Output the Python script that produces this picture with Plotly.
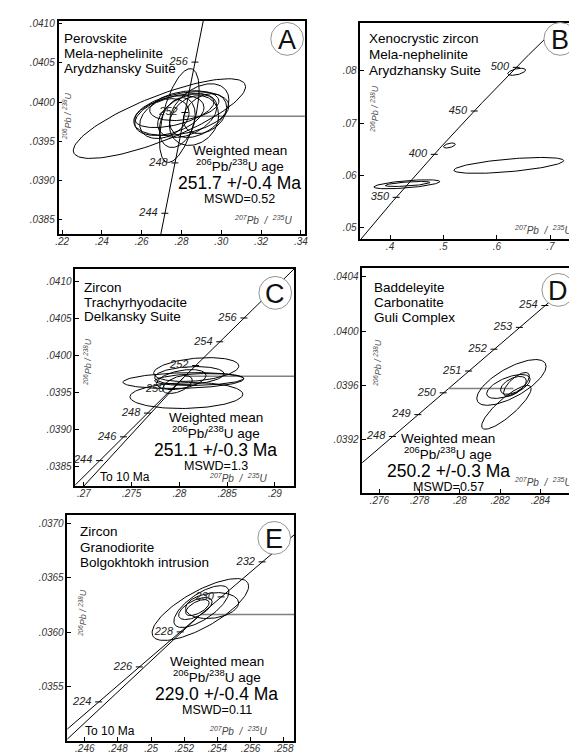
import numpy as np
import plotly.graph_objects as go

W, H = 577, 753
LAM238 = 1.55125e-10
LAM235 = 9.8485e-10
FONT = "Liberation Sans"

# ---------------- data ----------------
# ellipses: centre 207Pb/235U, centre 206Pb/238U, half-width x, half-height y, correlation
A_cx = [0.2689, 0.2789, 0.2799, 0.2739, 0.2918, 0.2829, 0.2764, 0.2863, 0.2714, 0.2814, 0.2889, 0.2779]
A_cy = [0.039788, 0.039827, 0.039852, 0.039827, 0.039852, 0.039827, 0.039890, 0.039763, 0.039788, 0.039954, 0.039890, 0.039737]
A_sx = [0.0433, 0.00995, 0.0239, 0.0174, 0.0109, 0.0149, 0.0199, 0.0124, 0.0124, 0.0174, 0.0149, 0.0090]
A_sy = [0.00051, 0.0006, 0.00028, 0.000255, 0.000255, 0.00028, 0.000217, 0.000319, 0.000255, 0.000191, 0.000344, 0.000319]
A_rho = [0.8, 0.55, 0.35, 0.4, 0.3, 0.4, 0.5, 0.2, 0.3, 0.3, 0.4, 0.3]

B_cx = [0.637, 0.5111, 0.6222, 0.4315, 0.4330]
B_cy = [0.0798, 0.06571, 0.0619, 0.05829, 0.05835]
B_sx = [0.0167, 0.0111, 0.1028, 0.0617, 0.0417]
B_sy = [0.00067, 0.00048, 0.00152, 0.00086, 0.00048]
B_rho = [0.5, 0.5, 0.6, 0.6, 0.6]

C_cx = [0.28041, 0.28176, 0.28073, 0.2802, 0.28104, 0.27979, 0.28207]
C_cy = [0.039662, 0.039811, 0.039459, 0.039676, 0.039730, 0.039608, 0.039676]
C_sx = [0.00632, 0.00446, 0.00591, 0.00259, 0.00363, 0.00155, 0.00466]
C_sy = [0.000108, 0.000162, 0.000176, 0.000135, 0.000122, 0.000122, 0.000081]
C_rho = [0.2, 0.3, 0.1, 0.4, 0.2, 0.5, 0.2]

D_cx = [0.28256, 0.28231, 0.28241, 0.28266, 0.28281]
D_cy = [0.039620, 0.039436, 0.039590, 0.039598, 0.039605]
D_sx = [0.00172, 0.00123, 0.00108, 0.00064, 0.00064]
D_sy = [0.000169, 0.000162, 0.0000883, 0.000066, 0.0000883]
D_rho = [0.7, 0.85, 0.6, 0.5, 0.7]

E_cx = [0.25297, 0.25303, 0.25267, 0.25368, 0.25279]
E_cy = [0.036207, 0.036234, 0.036216, 0.036243, 0.036225]
E_sx = [0.00291, 0.00166, 0.00101, 0.0016, 0.00071]
E_sy = [0.000284, 0.000192, 0.000101, 0.000119, 0.000073]
E_rho = [0.75, 0.7, 0.6, 0.2, 0.6]

# concordia age ticks (Ma)
A_ages = [244, 248, 252, 256]
B_ages = [350, 400, 450, 500]
C_ages = [244, 246, 248, 250, 252, 254, 256]
D_ages = [248, 249, 250, 251, 252, 253, 254]
E_ages = [224, 226, 228, 230, 232]

# weighted mean 206Pb/238U ages (Ma) and MSWD
mean_age = {"A": 251.7, "C": 251.1, "D": 250.2, "E": 229.0}
mean_err = {"A": 0.4, "C": 0.3, "D": 0.3, "E": 0.4}
mswd = {"A": "0.52", "C": "1.3", "D": "0.57", "E": "0.11"}
lower_intercept = 10.0  # Ma, chord "To 10 Ma" (panels C, E)

# tick labels
A_xt = [".22", ".24", ".26", ".28", ".30", ".32", ".34"]
A_yt = [".0385", ".0390", ".0395", ".0400", ".0405", ".0410"]
B_xt = [".4", ".5", ".6", ".7"]
B_yt = [".05", ".06", ".07", ".08"]
C_xt = [".27", ".275", ".28", ".285", ".29"]
C_yt = [".0385", ".0390", ".0395", ".0400", ".0405", ".0410"]
D_xt = [".276", ".278", ".28", ".282", ".284"]
D_yt = [".0388", ".0392", ".0396", ".0400", ".0404"]
E_xt = [".246", ".248", ".25", ".252", ".254", ".256", ".258"]
E_yt = [".0355", ".0360", ".0365", ".0370"]

titles = {
    "A": ["Perovskite", "Mela-nephelinite", "Arydzhansky Suite"],
    "B": ["Xenocrystic zircon", "Mela-nephelinite", "Arydzhansky Suite"],
    "C": ["Zircon", "Trachyrhyodacite", "Delkansky Suite"],
    "D": ["Baddeleyite", "Carbonatite", "Guli Complex"],
    "E": ["Zircon", "Granodiorite", "Bolgokhtokh intrusion"],
}

# ---------------- layout (pixel geometry) ----------------
P = {
    "A": dict(box=(48, 10, 297, 224), xr=(0.21816, 0.34204), yr=(0.038309, 0.041038),
              ell=(A_cx, A_cy, A_sx, A_sy, A_rho), ages=A_ages, span=(238, 262),
              xt=A_xt, yt=A_yt, chord=False, mline_end=None,
              title_xy=(52, 28, 15), circ=(279, 28), ytit=(56, 105), xtit=(255, 210),
              wm=(231, 140)),
    "B": dict(box=(353, 12, 574, 229), xr=(0.34444, 0.7537), yr=(0.04781, 0.08914),
              ell=(B_cx, B_cy, B_sx, B_sy, B_rho), ages=B_ages, span=(280, 600),
              xt=B_xt, yt=B_yt, chord=False, mline_end=None,
              title_xy=(360, 28, 16), circ=(555, 28), ytit=(367, 98), xtit=(538, 220),
              wm=None),
    "C": dict(box=(65, 259, 286, 477), xr=(0.2691, 0.2920), yr=(0.03823, 0.041176),
              ell=(C_cx, C_cy, C_sx, C_sy, C_rho), ages=C_ages, span=(236, 264),
              xt=C_xt, yt=C_yt, chord=True, mline_end=None,
              title_xy=(72, 278, 14.5), circ=(267, 283), ytit=(77, 352), xtit=(230, 469),
              wm=(207, 408), to10=(115, 468)),
    "D": dict(box=(355, 258, 575, 484), xr=(0.275154, 0.285966), yr=(0.038802, 0.040466),
              ell=(D_cx, D_cy, D_sx, D_sy, D_rho), ages=D_ages, span=(245, 258),
              xt=D_xt, yt=D_yt, chord=False, mline_end=0.28266,
              title_xy=(365, 278, 15), circ=(553, 280), ytit=(370, 353), xtit=(538, 473),
              wm=(442, 429)),
    "E": dict(box=(57, 506, 286, 733), xr=(0.24495, 0.25862), yr=(0.034999, 0.037075),
              ell=(E_cx, E_cy, E_sx, E_sy, E_rho), ages=E_ages, span=(215, 240),
              xt=E_xt, yt=E_yt, chord=True, mline_end=None,
              title_xy=(68, 523, 15.5), circ=(266, 529), ytit=(72, 604), xtit=(230, 723),
              wm=(208, 653), to10=(100, 723)),
}


def conc_xy(t_ma):
    t = np.asarray(t_ma, float) * 1e6
    return np.expm1(LAM235 * t), np.expm1(LAM238 * t)


def ellipse(cx, cy, sx, sy, rho, n=120):
    th = np.linspace(0, 2 * np.pi, n)
    return (cx + sx * np.cos(th),
            cy + sy * (rho * np.cos(th) + np.sqrt(1 - rho ** 2) * np.sin(th)))


def px(x, y):
    return x / W, 1 - y / H


fig = go.Figure()
annotations = []
shapes = []
layout = {}

for i, key in enumerate(["A", "B", "C", "D", "E"]):
    p = P[key]
    s = "" if i == 0 else str(i + 1)
    xa, ya = "x" + s, "y" + s
    l, t, r, b = p["box"]
    xvals = [float(v) for v in p["xt"]]
    yvals = [float(v) for v in p["yt"]]
    tickfont = dict(family=FONT, size=10, color="#333", style="italic")
    common = dict(ticks="inside", ticklen=4, tickwidth=1, tickcolor="black",
                  showline=True, mirror=True, linecolor="black", linewidth=1.5,
                  showgrid=False, zeroline=False, tickfont=tickfont)
    layout["xaxis" + s] = dict(domain=[l / W, r / W], range=list(p["xr"]), anchor=ya,
                               tickvals=xvals, ticktext=p["xt"], ticklabelstandoff=-3,
                               **common)
    layout["yaxis" + s] = dict(domain=[1 - b / H, 1 - t / H], range=list(p["yr"]), anchor=xa,
                               tickvals=yvals, ticktext=p["yt"], **common)

    # concordia
    ages_line = np.linspace(p["span"][0], p["span"][1], 200)
    cxl, cyl = conc_xy(ages_line)
    fig.add_trace(go.Scatter(x=cxl, y=cyl, mode="lines", xaxis=xa, yaxis=ya,
                             line=dict(color="black", width=1), hoverinfo="skip"))
    # chord to 10 Ma
    if p["chord"]:
        ux, uy = conc_xy([mean_age[key], lower_intercept])
        fig.add_trace(go.Scatter(x=ux, y=uy, mode="lines", xaxis=xa, yaxis=ya,
                                 line=dict(color="black", width=1), hoverinfo="skip"))
    # weighted mean line
    if key in mean_age:
        mx, my = conc_xy([mean_age[key]])
        xend = p["mline_end"] if p["mline_end"] is not None else p["xr"][1]
        fig.add_trace(go.Scatter(x=[mx[0], xend], y=[my[0], my[0]], mode="lines",
                                 xaxis=xa, yaxis=ya,
                                 line=dict(color="#808080", width=1.5), hoverinfo="skip"))
    # ellipses
    for cx, cy, sx, sy, rho in zip(*p["ell"]):
        ex, ey = ellipse(cx, cy, sx, sy, rho)
        fig.add_trace(go.Scatter(x=ex, y=ey, mode="lines", xaxis=xa, yaxis=ya,
                                 line=dict(color="black", width=1), hoverinfo="skip"))
    # concordia age ticks + labels
    tx, ty = conc_xy(p["ages"])
    fig.add_trace(go.Scatter(x=tx, y=ty, mode="markers+text", xaxis=xa, yaxis=ya,
                             marker=dict(symbol="line-ew", size=5,
                                         line=dict(color="black", width=1)),
                             text=[f"{a} " for a in p["ages"]], textposition="middle left",
                             textfont=dict(family=FONT, size=11, color="#222", style="italic"),
                             hoverinfo="skip", cliponaxis=False))

    # sample description
    x0, y0, dy = p["title_xy"]
    for k, line in enumerate(titles[key]):
        ax, ay = px(x0, y0 + k * dy)
        annotations.append(dict(x=ax, y=ay, xref="paper", yref="paper", text=line,
                                showarrow=False, xanchor="left", yanchor="middle",
                                font=dict(family=FONT, size=13.5, color="black")))
    # panel letter in circle
    ccx, ccy = p["circ"]
    rr = 16.5
    shapes.append(dict(type="circle", xref="paper", yref="paper",
                       x0=(ccx - rr) / W, x1=(ccx + rr) / W,
                       y0=1 - (ccy + rr) / H, y1=1 - (ccy - rr) / H,
                       line=dict(color="#777", width=0.8), fillcolor="white"))
    ax, ay = px(ccx, ccy + 1)
    annotations.append(dict(x=ax, y=ay, xref="paper", yref="paper", text=key,
                            showarrow=False, xanchor="center", yanchor="middle",
                            font=dict(family=FONT, size=27, color="#111")))
    # axis titles inside the box
    ax, ay = px(*p["ytit"])
    annotations.append(dict(x=ax, y=ay, xref="paper", yref="paper",
                            text="<i><sup>206</sup>Pb / <sup>238</sup>U</i>", textangle=-90,
                            showarrow=False, xanchor="center", yanchor="middle",
                            font=dict(family=FONT, size=9, color="#555")))
    ax, ay = px(*p["xtit"])
    annotations.append(dict(x=ax, y=ay, xref="paper", yref="paper",
                            text="<i><sup>207</sup>Pb  /  <sup>235</sup>U</i>",
                            showarrow=False, xanchor="center", yanchor="middle",
                            font=dict(family=FONT, size=10, color="#444")))
    # weighted mean text
    if p["wm"] is not None:
        wx, wy = p["wm"]
        lines = [("Weighted mean", 13.5, 0),
                 ("<sup>206</sup>Pb/<sup>238</sup>U age", 13.5, 15),
                 (f"{mean_age[key]:.1f} +/-{mean_err[key]:.1f} Ma", 17.5, 33),
                 (f"MSWD={mswd[key]}", 12.5, 49)]
        for txt, fs, off in lines:
            ax, ay = px(wx, wy + off)
            annotations.append(dict(x=ax, y=ay, xref="paper", yref="paper", text=txt,
                                    showarrow=False, xanchor="center", yanchor="middle",
                                    font=dict(family=FONT, size=fs, color="black")))
    if "to10" in p:
        ax, ay = px(*p["to10"])
        annotations.append(dict(x=ax, y=ay, xref="paper", yref="paper",
                                text=f"To {lower_intercept:.0f} Ma", showarrow=False,
                                xanchor="center", yanchor="middle",
                                font=dict(family=FONT, size=12, color="black")))

fig.update_layout(width=W, height=H, autosize=False, margin=dict(l=0, r=0, t=0, b=0),
                  paper_bgcolor="white", plot_bgcolor="white", showlegend=False,
                  annotations=annotations, shapes=shapes, **layout)
fig.write_html("out.html")
